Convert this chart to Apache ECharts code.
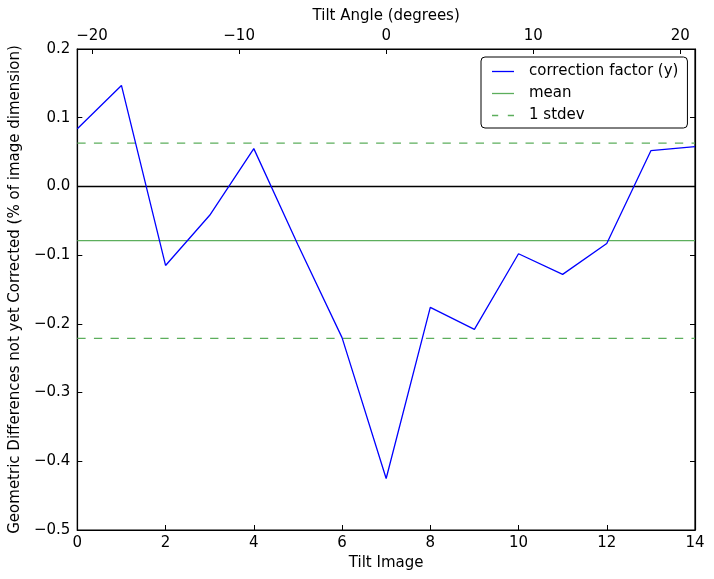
<!DOCTYPE html>
<html><head><meta charset="utf-8">
<script src="https://cdn.jsdelivr.net/npm/echarts@6/dist/echarts.min.js"></script>
<style>html,body{margin:0;padding:0;background:#fff}#c{width:714px;height:579px}</style>
</head><body><div id="c"></div>
<script>
const tiltImage = [0,1,2,3,4,5,6,7,8,9,10,11,12,13,14];
const correction = [0.084,0.147,-0.115,-0.042,0.055,-0.085,-0.220,-0.425,-0.176,-0.208,-0.098,-0.128,-0.083,0.052,0.058];
const meanValue = -0.079;
const stdUpper = 0.063;
const stdLower = -0.221;
const angleTicks = [-20,-10,0,10,20];
const angleRange = [-21,21];
const xTicks = [0,2,4,6,8,10,12,14];
const yRange = [-0.5,0.2];

const font = 'DejaVu Sans';
const minus = v => (v < 0 ? '\u2212' : '') + Math.abs(v).toString();
const chart = echarts.init(document.getElementById('c'));
const tickStyle = {inside:true, length:5, lineStyle:{color:'#000', width:1}};
const lineAxis = {lineStyle:{color:'#000', width:1.2}, onZero:false};
const green = '#5cae5c';
const solidIcon = 'path://M0,0h22v1.3h-22z';
const dashIcon = 'path://M0,0h4.5v1h-4.5z M11.5,0h4.5v1h-4.5z';
chart.setOption({
  animation:false,
  grid:{left:75, top:49, right:19, bottom:49, show:true, borderColor:'#000', borderWidth:1.2},
  legend:{
    data:[
      {name:'correction factor (y)', icon:solidIcon},
      {name:'mean', icon:solidIcon},
      {name:'1 stdev', icon:dashIcon}
    ],
    orient:'vertical', left:481, top:57,
    backgroundColor:'#fff', borderColor:'#000', borderWidth:1, borderRadius:4,
    padding:[7,9,5,11], itemWidth:22, itemHeight:12, itemGap:7,
    textStyle:{fontFamily:font, fontSize:15, color:'#000', padding:[0,0,0,10]}
  },
  xAxis:[
    {type:'value', position:'bottom', min:0, max:14, interval:2,
     name:'Tilt Image', nameLocation:'middle', nameGap:24,
     nameTextStyle:{fontFamily:font, fontSize:15, color:'#000'},
     axisLine:lineAxis, axisTick:tickStyle, splitLine:{show:false},
     axisLabel:{fontFamily:font, fontSize:15, color:'#000', margin:6,
       customValues:xTicks, formatter:v=>minus(v)}},
    {type:'value', position:'top', min:angleRange[0], max:angleRange[1],
     name:'Tilt Angle (degrees)', nameLocation:'middle', nameGap:25,
     nameTextStyle:{fontFamily:font, fontSize:15, color:'#000'},
     axisLine:lineAxis, axisTick:Object.assign({customValues:angleTicks}, tickStyle), splitLine:{show:false},
     axisLabel:{fontFamily:font, fontSize:15, color:'#000', margin:5,
       customValues:angleTicks, formatter:v=>minus(v)}}
  ],
  yAxis:[
    {type:'value', position:'left', min:yRange[0], max:yRange[1], interval:0.1,
     name:'Geometric Differences not yet Corrected (% of image dimension)',
     nameLocation:'middle', nameGap:52,
     nameTextStyle:{fontFamily:font, fontSize:15, color:'#000'},
     axisLine:lineAxis, axisTick:tickStyle, splitLine:{show:false},
     axisLabel:{fontFamily:font, fontSize:15, color:'#000', margin:7,
       formatter:v=>{const r=Math.round(v*10)/10; return (r<0?'\u2212':'')+Math.abs(r).toFixed(1);}}},
    {type:'value', position:'right', min:yRange[0], max:yRange[1], interval:0.1,
     axisLine:lineAxis, axisTick:tickStyle, splitLine:{show:false}, axisLabel:{show:false}}
  ],
  series:[
    {name:'zero', type:'line', xAxisIndex:0, yAxisIndex:0, symbol:'none', silent:true,
     data:[[0,0],[14,0]], lineStyle:{color:'#000', width:1.5}, z:1},
    {name:'correction factor (y)', type:'line', xAxisIndex:0, yAxisIndex:0, symbol:'none',
     data:tiltImage.map((x,i)=>[x,correction[i]]), itemStyle:{color:'#0000ff'},
     lineStyle:{color:'#0000ff', width:1.3}, z:3},
    {name:'mean', type:'line', symbol:'none', data:[[0,meanValue],[14,meanValue]],
     itemStyle:{color:green}, lineStyle:{color:green, width:1.3}, z:2},
    {name:'1 stdev', type:'line', symbol:'none', data:[[0,stdUpper],[14,stdUpper]],
     itemStyle:{color:green}, lineStyle:{color:green, width:1.3, type:[8.3,8.3]}, z:2},
    {name:'1 stdev', type:'line', symbol:'none', data:[[0,stdLower],[14,stdLower]],
     itemStyle:{color:green}, lineStyle:{color:green, width:1.3, type:[8.3,8.3]}, z:2}
  ]
});
</script></body></html>
